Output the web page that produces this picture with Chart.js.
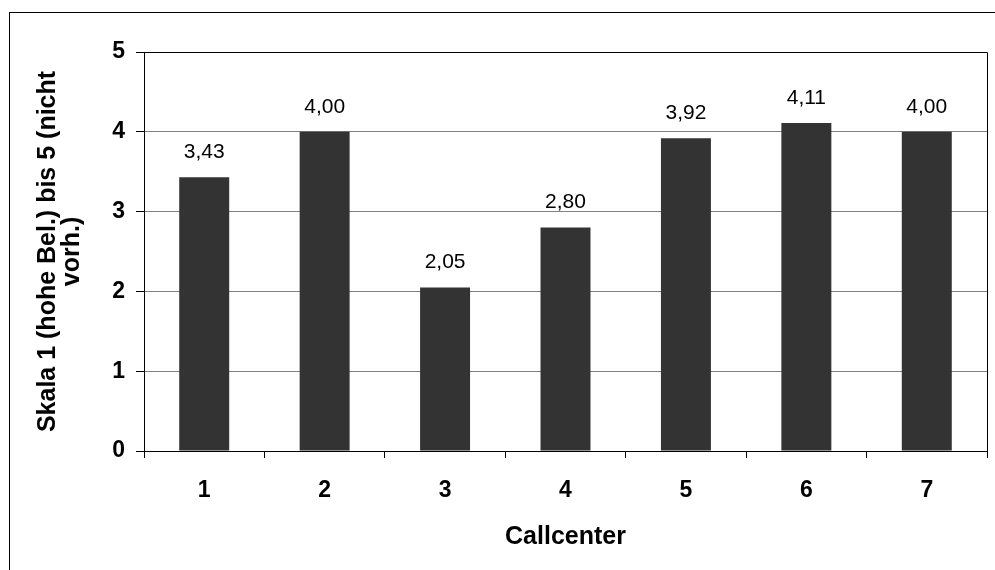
<!DOCTYPE html>
<html>
<head>
<meta charset="utf-8">
<script src="https://cdn.jsdelivr.net/npm/chart.js@4/dist/chart.umd.min.js"></script>
<style>
  html, body { margin: 0; padding: 0; background: #fff; }
  #wrap { width: 995px; height: 570px; position: relative; }
</style>
</head>
<body>
<div id="wrap"><canvas id="c" width="995" height="570"></canvas></div>
<script>
// Callcenter ratings on a 1..5 scale
const categories = ['1', '2', '3', '4', '5', '6', '7'];
const values = [3.43, 4.00, 2.05, 2.80, 3.92, 4.11, 4.00];
const yTicks = [0, 1, 2, 3, 4, 5];

const FONT = "'Liberation Sans', Arial, Helvetica, sans-serif";

// Frame around the whole figure and border round the plot area
const framePlugin = {
  id: 'frame',
  beforeDraw(chart) {
    const ctx = chart.ctx;
    ctx.save();
    ctx.fillStyle = '#fff';
    ctx.fillRect(0, 0, chart.width, chart.height);
    ctx.strokeStyle = '#000';
    ctx.lineWidth = 1;
    ctx.strokeRect(9.5, 12.5, chart.width + 20, chart.height + 20);
    ctx.restore();
  },
  afterDraw(chart) {
    const a = chart.chartArea;
    const ctx = chart.ctx;
    ctx.save();
    ctx.strokeStyle = '#000';
    ctx.lineWidth = 1;
    ctx.beginPath();
    ctx.moveTo(Math.round(a.left) + 0.5, Math.round(a.top) + 0.5);
    ctx.lineTo(Math.round(a.right) + 0.5, Math.round(a.top) + 0.5);
    ctx.lineTo(Math.round(a.right) + 0.5, Math.round(a.bottom) + 0.5);
    ctx.stroke();
    ctx.restore();
  }
};

// Value labels above each bar, German decimal comma
const valueLabels = {
  id: 'valueLabels',
  afterDatasetsDraw(chart) {
    const ctx = chart.ctx;
    const meta = chart.getDatasetMeta(0);
    ctx.save();
    ctx.fillStyle = '#000';
    ctx.font = '21px ' + FONT;
    ctx.textAlign = 'center';
    ctx.textBaseline = 'middle';
    meta.data.forEach((bar, i) => {
      const txt = values[i].toFixed(2).replace('.', ',');
      ctx.fillText(txt, bar.x, bar.y - 25);
    });
    ctx.restore();
  }
};

new Chart(document.getElementById('c'), {
  type: 'bar',
  data: {
    labels: categories,
    datasets: [{
      data: values,
      backgroundColor: '#333333',
      borderWidth: 0,
      categoryPercentage: 1,
      barPercentage: 0.415
    }]
  },
  options: {
    responsive: false,
    animation: false,
    events: [],
    layout: { padding: { top: 52, right: 8, left: 0, bottom: 0 } },
    plugins: { legend: { display: false }, tooltip: { enabled: false } },
    scales: {
      x: {
        offset: true,
        grid: {
          offset: true,
          drawOnChartArea: false,
          drawTicks: true,
          tickLength: 7,
          color: '#000'
        },
        border: { color: '#000', width: 1 },
        ticks: {
          color: '#000',
          padding: 19,
          font: { family: FONT, size: 23, weight: 'bold' }
        },
        title: {
          display: true,
          text: 'Callcenter',
          color: '#000',
          font: { family: FONT, size: 25, weight: 'bold', lineHeight: 1.2 },
          padding: { top: 0, bottom: 18 }
        },
        afterFit(scale) { scale.height = 119; }
      },
      y: {
        min: 0,
        max: 5,
        afterBuildTicks(scale) { scale.ticks = yTicks.map(v => ({ value: v })); },
        grid: {
          color: '#808080',
          tickColor: '#000',
          tickLength: 8,
          drawTicks: true
        },
        border: { color: '#000', width: 1 },
        ticks: {
          color: '#000',
          padding: 11,
          font: { family: FONT, size: 23, weight: 'bold' }
        },
        title: {
          display: true,
          text: ['Skala 1 (hohe Bel.) bis 5 (nicht', 'vorh.)'],
          color: '#000',
          font: { family: FONT, size: 25, weight: 'bold', lineHeight: 0.96 },
          padding: { top: 36, bottom: 0 }
        },
        afterFit(scale) { scale.width = 144; }
      }
    }
  },
  plugins: [framePlugin, valueLabels]
});
</script>
</body>
</html>
